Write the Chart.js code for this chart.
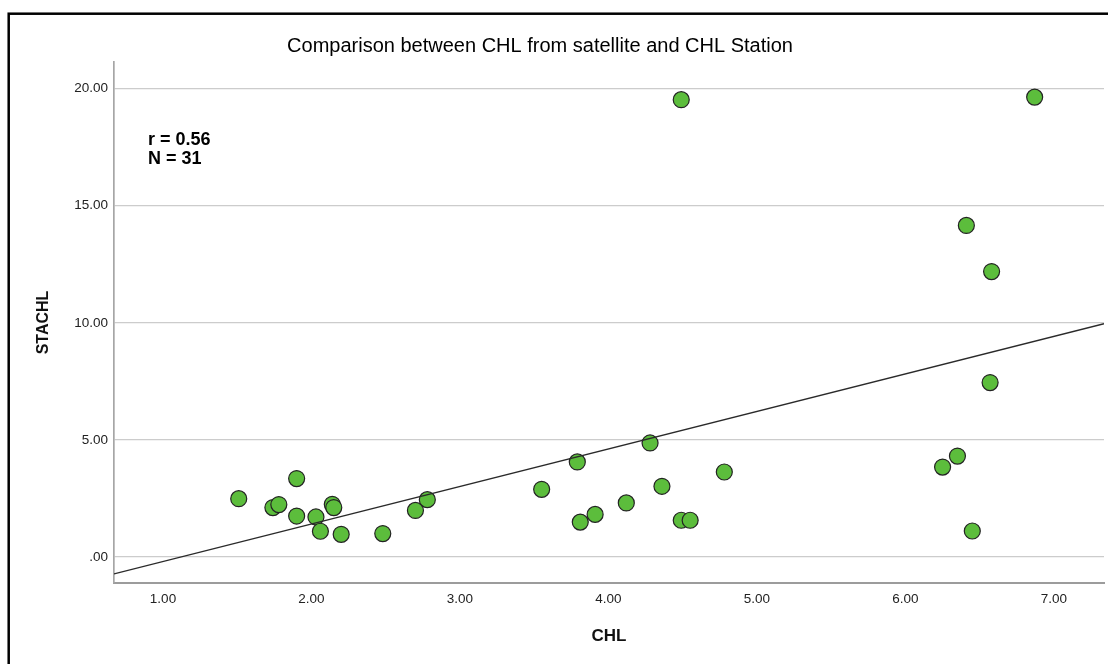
<!DOCTYPE html>
<html>
<head>
<meta charset="utf-8">
<title>CHL satellite vs station</title>
<script src="https://cdn.jsdelivr.net/npm/chart.js@4.4.1/dist/chart.umd.min.js"></script>
<style>
  html, body { margin: 0; padding: 0; background: #ffffff; }
  canvas { display: block; }
</style>
</head>
<body>
<canvas id="chlChart" width="1108" height="664"></canvas>
<script>
// CHL from satellite (x) against CHL measured at the station (y)
var chlSatellite = [1.51, 1.74, 1.78, 1.90, 1.90, 2.03, 2.06, 2.14, 2.15, 2.20, 2.48, 2.70, 2.78,
                    3.55, 3.79, 3.81, 3.91, 4.12, 4.28, 4.36, 4.49, 4.55, 4.78, 4.49,
                    6.87, 6.41, 6.58, 6.57, 6.35, 6.25, 6.45];
var chlStation = [2.49, 2.11, 2.24, 3.35, 1.75, 1.71, 1.10, 2.25, 2.11, 0.97, 1.00, 1.99, 2.45,
                  2.89, 4.06, 1.49, 1.82, 2.31, 4.87, 3.02, 1.57, 1.57, 3.63, 19.53,
                  19.64, 14.16, 12.19, 7.45, 4.31, 3.84, 1.11];
var xTicks = [1, 2, 3, 4, 5, 6, 7];
var yTicks = [0, 5, 10, 15, 20];
var xRange = [0.67, 7.337];
var yRange = [-1.11, 21.14];
var statsText = ['r = 0.56', 'N = 31'];

var FONT = '"Liberation Sans", Arial, sans-serif';

// least squares line through the points
function linearFit(xs, ys) {
    var n = xs.length, mx = 0, my = 0;
    for (var i = 0; i < n; i++) { mx += xs[i]; my += ys[i]; }
    mx /= n; my /= n;
    var sxy = 0, sxx = 0;
    for (var j = 0; j < n; j++) {
        sxy += (xs[j] - mx) * (ys[j] - my);
        sxx += (xs[j] - mx) * (xs[j] - mx);
    }
    var slope = sxy / sxx;
    return { slope: slope, intercept: my - slope * mx };
}

var fit = linearFit(chlSatellite, chlStation);
var fitLine = xRange.map(function(x) { return { x: x, y: fit.intercept + fit.slope * x }; });

var points = chlSatellite.map(function(x, i) { return { x: x, y: chlStation[i] }; });

function tickLabel(v) {
    return Number(v).toFixed(2).replace(/^0\./, '.');
}

// frame, heading and the r / N note
var decorations = {
    id: 'decorations',
    afterDraw: function(chart) {
        var ctx = chart.ctx;
        ctx.save();
        ctx.strokeStyle = '#000000';
        ctx.lineWidth = 2.5;
        ctx.strokeRect(8.7, 13.7, 1200, 700);

        ctx.fillStyle = '#000000';
        ctx.textAlign = 'center';
        ctx.textBaseline = 'middle';
        ctx.font = '20px ' + FONT;
        ctx.fillText('Comparison between CHL from satellite and CHL Station', 540, 46);

        ctx.textAlign = 'left';
        ctx.font = 'bold 18px ' + FONT;
        ctx.fillText(statsText[0], 148, 140);
        ctx.fillText(statsText[1], 148, 159);
        ctx.restore();
    }
};

var ctx = document.getElementById('chlChart').getContext('2d');

var chlChart = new Chart(ctx, {
    type: 'scatter',
    data: {
        datasets: [{
            type: 'line',
            data: fitLine,
            borderColor: '#2a2a2a',
            borderWidth: 1.3,
            pointRadius: 0,
            fill: false,
            order: 0
        }, {
            data: points,
            backgroundColor: '#5cbd3c',
            borderColor: '#232323',
            borderWidth: 1.2,
            pointRadius: 8,
            order: 1
        }]
    },
    plugins: [decorations],
    options: {
        responsive: false,
        animation: false,
        layout: {
            autoPadding: false,
            padding: { top: 62, right: 4, bottom: 0, left: 0 }
        },
        plugins: {
            legend: { display: false },
            tooltip: { enabled: false },
            title: { display: false }
        },
        scales: {
            x: {
                type: 'linear',
                min: xRange[0],
                max: xRange[1],
                afterBuildTicks: function(axis) {
                    axis.ticks = xTicks.map(function(v) { return { value: v }; });
                },
                afterFit: function(scale) { scale.height = 81; },
                grid: { display: false, drawTicks: false },
                border: { display: true, color: '#9c9c9c', width: 2 },
                ticks: {
                    padding: 8,
                    color: '#222222',
                    font: { family: FONT, size: 13.5 },
                    callback: tickLabel
                },
                title: {
                    display: true,
                    text: 'CHL',
                    color: '#111111',
                    font: { family: FONT, size: 17, weight: 'bold' },
                    padding: { top: 0, bottom: 17 }
                }
            },
            y: {
                type: 'linear',
                min: yRange[0],
                max: yRange[1],
                afterBuildTicks: function(axis) {
                    axis.ticks = yTicks.map(function(v) { return { value: v }; });
                },
                afterFit: function(scale) { scale.width = 114; },
                grid: { color: '#cccccc', lineWidth: 1.3, drawTicks: false },
                border: { display: true, color: '#a6a6a6', width: 1.7 },
                ticks: {
                    padding: 6,
                    color: '#222222',
                    font: { family: FONT, size: 13.5 },
                    callback: tickLabel
                },
                title: {
                    display: true,
                    text: 'STACHL',
                    color: '#111111',
                    font: { family: FONT, size: 16, weight: 'bold' },
                    padding: { top: 34, bottom: 0 }
                }
            }
        }
    }
});
</script>
</body>
</html>
